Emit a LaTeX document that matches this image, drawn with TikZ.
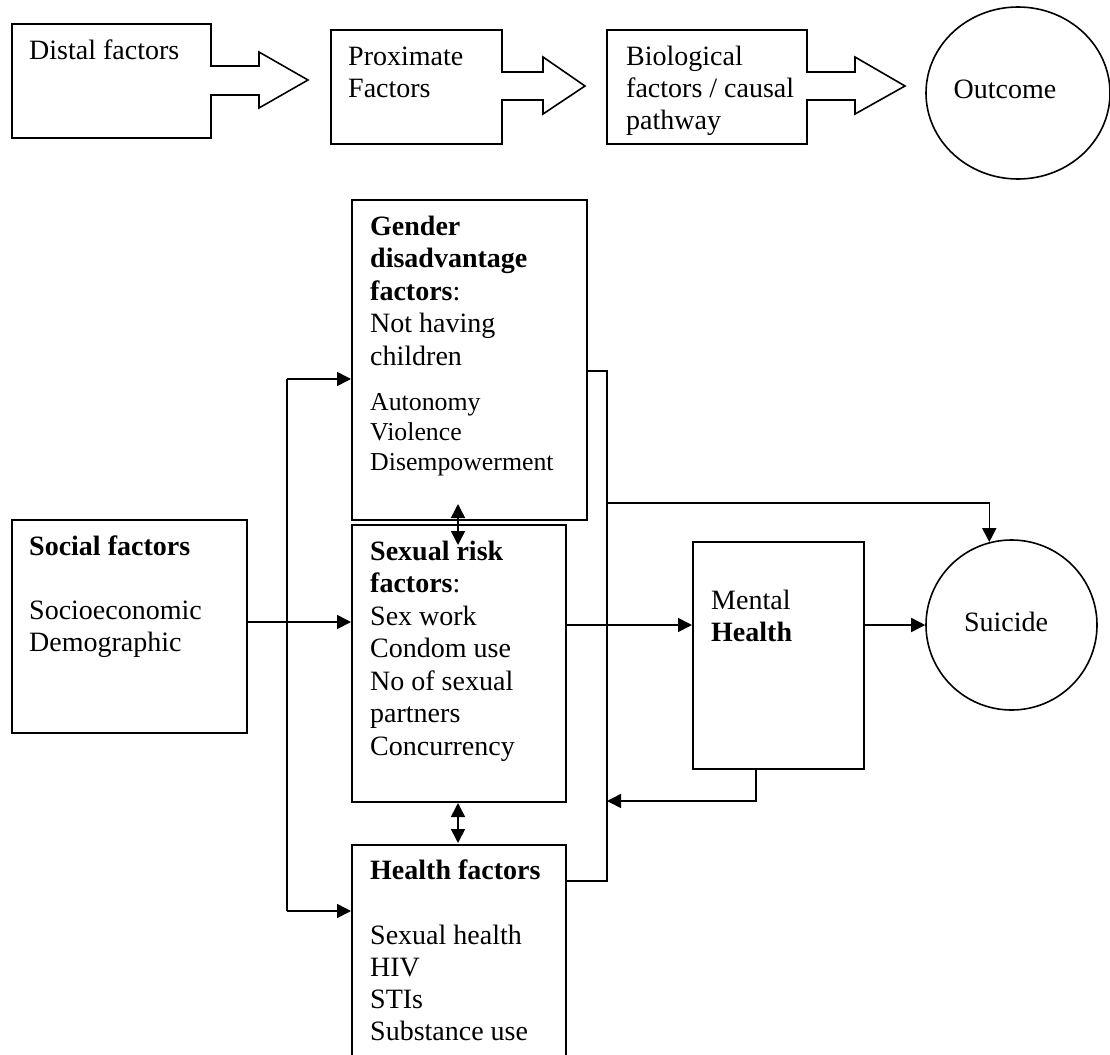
\documentclass[tikz,border=0pt]{standalone}
\usepackage{fontspec}
\setmainfont{Liberation Serif}
\usetikzlibrary{arrows.meta,shapes.geometric}
\newcommand{\fl}{\rule{0pt}{20pt}}
\begin{document}
\begin{tikzpicture}[x=1pt,y=-1pt,
  lw/.style={line width=1.6pt},
  box/.style={draw,lw,rectangle,inner sep=0pt,anchor=north west},
  oval/.style={draw,lw,ellipse,inner sep=0pt},
  txt/.style={anchor=north west,inner sep=0pt,align=left,font=\fontsize{28}{32.5}\selectfont},
  ctxt/.style={anchor=base,inner sep=0pt,font=\fontsize{28}{32.5}\selectfont},
  blk/.style={draw,lw,fill=white,line join=miter},
  con/.style={draw,lw},
  arr/.style={con,-{Triangle[length=14pt,width=14pt]}},
  darr/.style={con,{Triangle[length=14pt,width=14pt]}-{Triangle[length=14pt,width=14pt]}}]
\useasboundingbox (0,0) rectangle (1110,1054);
\clip (0,0) rectangle (1110,1054);
% ---------- top row ----------
\node[box,minimum width=199pt,minimum height=114pt] (dist) at (11,23) {};
\node[box,minimum width=171pt,minimum height=114pt] (prox) at (330,29) {};
\node[box,minimum width=200pt,minimum height=114pt] (bio) at (606,29) {};
\node[oval,minimum width=184pt,minimum height=172pt] (outc) at (1018,93) {};
% block arrows
\draw[blk] (210,66) -- (259,66) -- (259,52) -- (308,80) -- (259,108) -- (259,95) -- (210,95);
\fill[white] (208.5,67) rectangle (211.8,94);
\draw[blk] (501,72) -- (543,72) -- (543,57) -- (585,86) -- (543,114) -- (543,100) -- (501,100);
\fill[white] (499.5,73) rectangle (502.8,99);
\draw[blk] (806,72) -- (855,72) -- (855,57) -- (905,86) -- (855,114) -- (855,100) -- (806,100);
\fill[white] (804.5,73) rectangle (807.8,99);
\node[txt] (tdist) at (29,39) {\fl Distal factors};
\node[txt] (tprox) at (348,45) {\fl Proximate\\ Factors};
\node[txt] (tbio) at (626,45) {\fl Biological\\[-0.5pt] factors / causal\\[-0.5pt] pathway};
\node[ctxt] (toutc) at (1005,99) {Outcome};
% ---------- lower part ----------
\node[box,minimum width=235pt,minimum height=320pt] (gend) at (351,199) {};
\node[box,minimum width=214pt,minimum height=277pt] (sex) at (351,524) {};
\node[box,minimum width=214pt,minimum height=240pt] (hlth) at (351,844) {};
\node[box,minimum width=235pt,minimum height=213pt] (soc) at (11,519) {};
\node[box,minimum width=171pt,minimum height=227pt] (ment) at (692,541) {};
\node[oval,minimum width=171pt,minimum height=170pt] (suic) at (1011.5,625) {};
\node[txt] (tgend) at (370,215) {\fl\textbf{Gender}\\ \textbf{disadvantage}\\ \textbf{factors}:\\ Not having\\ children\\[12.5pt]
  {\fontsize{25.8}{30}\selectfont Autonomy}\\[-2.5pt] {\fontsize{25.8}{30}\selectfont Violence}\\[-2.5pt] {\fontsize{25.8}{30}\selectfont Disempowerment}};
\node[txt] (tsex) at (370,540) {\fl\textbf{Sexual risk}\\ \textbf{factors}:\\ Sex work\\ Condom use\\ No of sexual\\ partners\\ Concurrency};
\node[txt] (thlth) at (370,859) {\fl\textbf{Health factors}\\[32.5pt] Sexual health\\[-0.5pt] HIV\\[-0.5pt] STIs\\[-0.5pt] Substance use};
\node[txt] (tsoc) at (29,535) {\fl\textbf{Social factors}\\[31.5pt] Socioeconomic\\ Demographic};
\node[txt] (tment) at (711,589) {\fl Mental\\ \textbf{Health}};
\node[ctxt] (tsuic) at (1006,631) {Suicide};
% junction coordinates
\coordinate (jL1) at (287,379);
\coordinate (jL2) at (287,911);
\coordinate (jSoc) at (287,622);
\coordinate (jR1) at (607,371);
\coordinate (jR2) at (607,881);
\coordinate (jS) at (607,503);
\coordinate (jA) at (607,625);
\coordinate (jM) at (756,801);
\coordinate (jMv) at (607,801);
\coordinate (dA1) at (458,504);
\coordinate (dA2) at (458,545);
\coordinate (dB1) at (458,803);
\coordinate (dB2) at (458,843);
% connectors
\draw[con] (jL1) -- (jL2);
\draw[arr] (jL1) -- (gend.west |- jL1);
\draw[arr] (jL2) -- (hlth.west |- jL2);
\draw[arr] (soc.east |- jSoc) -- (sex.west |- jSoc);
\draw[con] (gend.east |- jR1) -- (jR1) -- (jR2) -- (hlth.east |- jR2);
\draw[arr] (jS) -| (suic.105);
\draw[arr] (sex.east |- jA) -- (ment.west |- jA);
\draw[arr] (ment.east |- suic) -- (suic);
\draw[arr] (ment.south -| jM) -- (jM) -- (jMv);
\draw[darr] (dA1) -- (dA2);
\draw[darr] (dB1) -- (dB2);
\end{tikzpicture}
\end{document}
